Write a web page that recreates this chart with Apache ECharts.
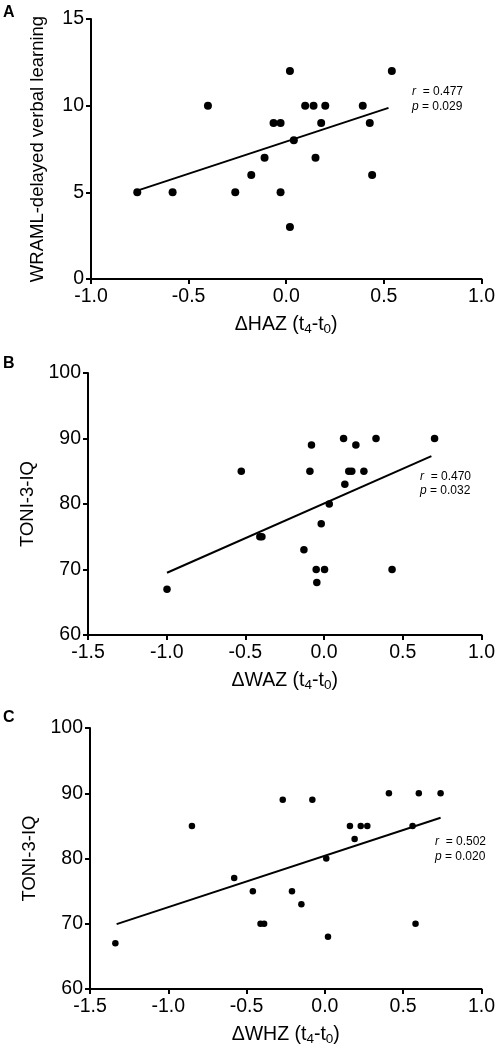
<!DOCTYPE html>
<html><head><meta charset="utf-8">
<script src="https://cdn.jsdelivr.net/npm/echarts@6/dist/echarts.min.js"></script>
<style>html,body{margin:0;padding:0;background:#fff}#c{width:498px;height:1049px}</style>
</head><body><div id="c"></div>
<script>
// Panel A: ΔHAZ vs WRAML-delayed verbal learning
const hazX   = [-0.763,-0.582,-0.401,-0.261,-0.179,-0.111,-0.065,-0.029,-0.029,0.019,0.019,0.039,0.097,0.140,0.150,0.179,0.200,0.392,0.428,0.440,0.541];
const wramlY = [5,5,10,5,6,7,9,9,5,12,3,8,10,10,7,9,10,10,9,6,12];
const fitAx = [-0.763, 0.524];
const fitAy = [5.10, 9.87];
// Panel B: ΔWAZ vs TONI-3-IQ
const wazX  = [-0.998,-0.526,-0.408,-0.395,-0.128,-0.090,-0.080,-0.050,-0.046,-0.018,0.003,0.033,0.124,0.132,0.157,0.176,0.202,0.253,0.330,0.432,0.702];
const toniB = [67,85,75,75,73,85,89,70,68,77,70,80,90,83,85,85,89,85,90,70,90];
const fitBx = [-0.998, 0.682];
const fitBy = [69.5, 87.3];
// Panel C: ΔWHZ vs TONI-3-IQ
const whzX  = [-1.338,-0.849,-0.579,-0.460,-0.411,-0.388,-0.269,-0.210,-0.150,-0.080,0.009,0.020,0.160,0.190,0.229,0.271,0.409,0.560,0.579,0.600,0.739];
const toniC = [67,85,77,75,70,70,89,75,73,89,80,68,85,83,85,85,90,85,70,90,90];
const fitCx = [-1.330, 0.739];
const fitCy = [69.94, 86.24];
// Ticks and labels
const xTicksA = {min:-1, max:1, interval:0.5};
const xTicksBC = {min:-1.5, max:1, interval:0.5};
const yTicksA = {min:0, max:15, interval:5};
const yTicksBC = {min:60, max:100, interval:10};
const stats = [['0.477','0.029'],['0.470','0.032'],['0.502','0.020']];
const panelLetters = ['A','B','C'];
const yNames = ['WRAML-delayed verbal learning','TONI-3-IQ','TONI-3-IQ'];
const xNames = ['HAZ','WAZ','WHZ'];

const font = 'Liberation Sans, Arial, Helvetica, sans-serif';
const zip = (a,b) => a.map((v,i)=>[v,b[i]]);

const grids = [
  {left:91, right:16, top:19, height:260},
  {left:88, right:16, top:373, height:262},
  {left:90, right:16, top:728, height:261}
];
const xT = [xTicksA, xTicksBC, xTicksBC];
const yT = [yTicksA, yTicksBC, yTicksBC];
const yGaps = [44, 44, 46];

const axisCommon = {
  axisLine:{show:true, onZero:false, lineStyle:{color:'#000', width:2}},
  axisTick:{show:true, inside:false, length:5, lineStyle:{color:'#000', width:2}},
  splitLine:{show:false}
};

const xAxis = xT.map((t,i)=>Object.assign({
  type:'value', gridIndex:i, min:t.min, max:t.max, interval:t.interval,
  name:'Δ'+xNames[i]+' (t{sub|4}-t{sub|0})', nameLocation:'middle', nameGap:34,
  nameTextStyle:{color:'#000', fontSize:19.5, fontFamily:font,
    rich:{sub:{fontSize:13.5, verticalAlign:'bottom', padding:[9,0,0,0], fontFamily:font, color:'#000'}}},
  axisLabel:{color:'#000', fontSize:19.5, fontFamily:font, margin:8,
    formatter:v=>v.toFixed(1)}
}, axisCommon));

const yAxis = yT.map((t,i)=>Object.assign({
  type:'value', gridIndex:i, min:t.min, max:t.max, interval:t.interval,
  name:yNames[i], nameLocation:'middle', nameGap:yGaps[i], nameRotate:90,
  nameTextStyle:{color:'#000', fontSize:18.5, fontFamily:font},
  axisLabel:{color:'#000', fontSize:19.5, fontFamily:font, margin:7}
}, axisCommon));

const scatterData = [zip(hazX,wramlY), zip(wazX,toniB), zip(whzX,toniC)];
const fitData = [zip(fitAx,fitAy), zip(fitBx,fitBy), zip(fitCx,fitCy)];
const symSizes = [8, 7.5, 6.5];

const series = [];
for (let i=0;i<3;i++){
  series.push({type:'line', xAxisIndex:i, yAxisIndex:i, data:fitData[i], symbol:'none',
    lineStyle:{color:'#000', width:2}, silent:true, animation:false});
  series.push({type:'scatter', xAxisIndex:i, yAxisIndex:i, data:scatterData[i],
    symbolSize:symSizes[i], itemStyle:{color:'#000', opacity:1}, animation:false});
}

const statPos = [[412,84],[420,470],[435,834]];
const statLH = [15,13.5,15];
const letterPos = [[3,5],[3,356],[3,710]];
const graphic = [];
for (let i=0;i<3;i++){
  graphic.push({type:'text', left:statPos[i][0], top:statPos[i][1], style:{
    text:'{i|r}  = '+stats[i][0]+'\n{i|p} = '+stats[i][1],
    fill:'#000', font:'12px '+font, lineHeight:statLH[i],
    rich:{i:{fontStyle:'italic', fontSize:12, fontFamily:font, fill:'#000'}}
  }});
  graphic.push({type:'text', left:letterPos[i][0], top:letterPos[i][1], style:{
    text:panelLetters[i], fill:'#000', font:'bold 16px '+font}});
}

const chart = echarts.init(document.getElementById('c'));
chart.setOption({animation:false, backgroundColor:'#fff', grid:grids, xAxis, yAxis, series, graphic});
</script></body></html>
